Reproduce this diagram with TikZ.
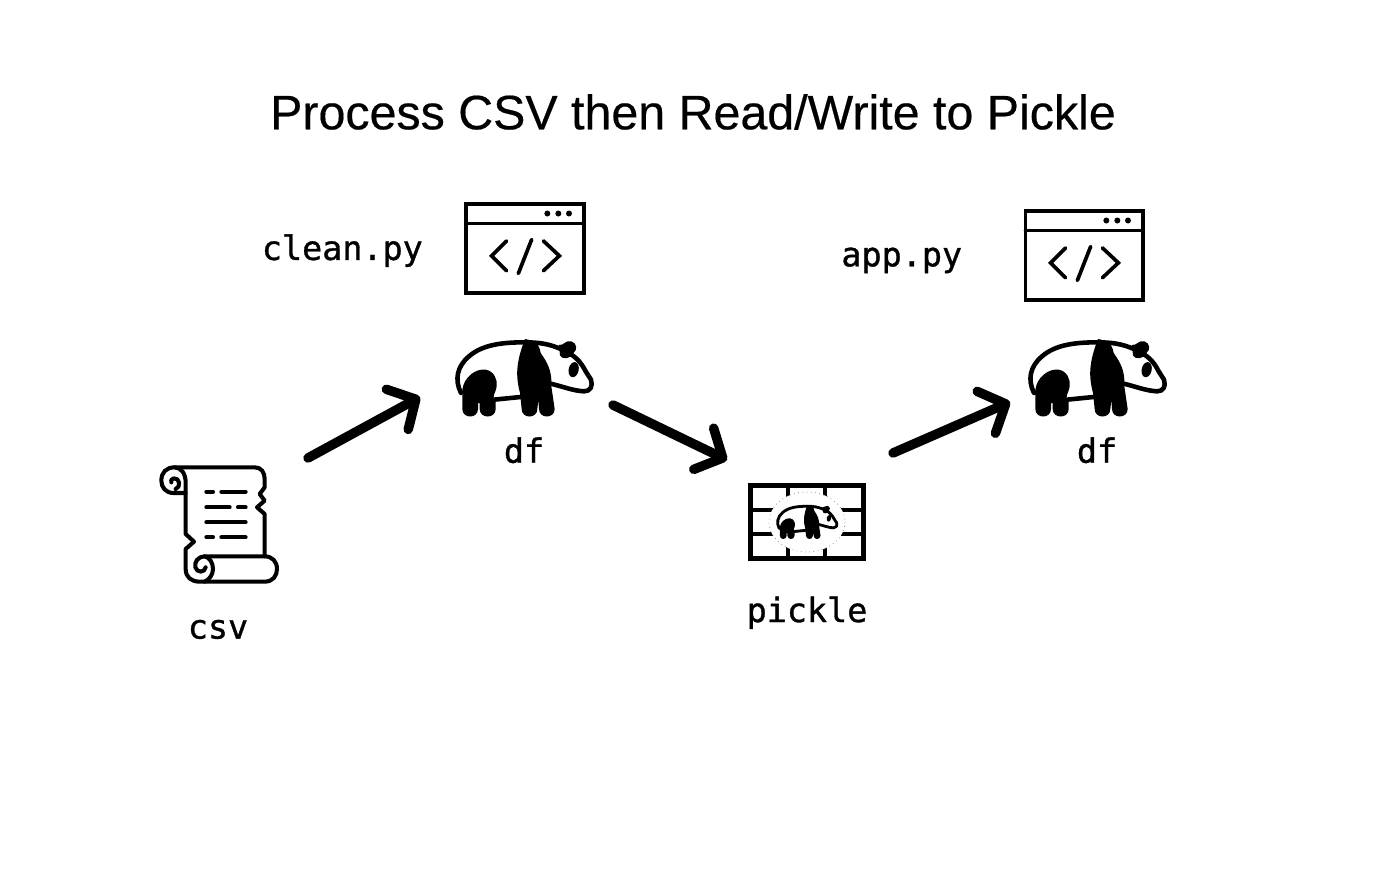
\documentclass[tikz,border=0pt]{standalone}
\usepackage{fontspec}
\setmainfont[FakeBold=0.4]{Liberation Sans}
\newfontfamily\labelfont[FakeBold=1]{DejaVu Sans Mono}
\usetikzlibrary{positioning, arrows.meta}
\tikzstyle{BigArrow} = [
line width=2.7pt,
line cap=round,
-{Straight Barb[length=6pt, width=13pt, round]}]
\tikzstyle{Label} = [inner sep=0pt, font=\labelfont\fontsize{9.5}{11}\selectfont]
\tikzstyle{Icon} = [inner sep=0pt, outer sep=0pt]
\tikzset{
pics/Panda/.style={code={
    \begin{scope}[shift={(-255,-565)}, line width=#1pt, line join=round, line cap=round]
    \draw (66,610) .. controls (46,570) and (54,530) .. (90,500)
        .. controls (130,465) and (190,458) .. (255,458)
        .. controls (300,458) and (330,462) .. (370,480)
        .. controls (405,495) and (425,515) .. (440,545)
        -- (456,570) .. controls (462,590) and (455,605) .. (435,605)
        .. controls (400,603) and (370,590) .. (335,582);
    \draw (165,630) -- (245,622);
    \fill (70,600) .. controls (75,562) and (110,536) .. (140,540)
        .. controls (165,544) and (176,570) .. (173,590)
        .. controls (170,612) and (155,622) .. (170,635)
        -- (170,658) .. controls (170,688) and (122,688) .. (122,658)
        -- (122,640) -- (117,640) -- (117,658)
        .. controls (117,688) and (70,688) .. (70,658) -- cycle;
    \fill (258,448) .. controls (285,453) and (300,460) .. (305,490)
        .. controls (322,515) and (340,540) .. (337,590)
        -- (347,658) .. controls (347,688) and (300,688) .. (300,658)
        -- (298,630) -- (295,658) .. controls (295,688) and (248,688) .. (248,658)
        -- (243,610) .. controls (230,560) and (230,520) .. (258,448) -- cycle;
    \fill (360,466) .. controls (375,468) and (380,450) .. (397,455)
        .. controls (415,460) and (415,482) .. (404,489)
        .. controls (395,510) and (368,510) .. (363,497) -- cycle;
    \fill [rotate around={-12:(404,540)}] (404,540) ellipse [x radius=15, y radius=23];
    \end{scope}
}},
pics/CodeWindow/.style={code={
    \begin{scope}[shift={(-255,-175)}, line width=1.05pt, line cap=round]
    \draw (79,42) rectangle (431,308);
    \draw (79,100) -- (431,100);
    \foreach \dotx in {322,355,387} {
        \fill (\dotx,70) circle (9);
    }
    \draw (200,152) -- (155,197) -- (200,242);
    \draw (310,152) -- (358,197) -- (310,242);
    \draw (275,148) -- (235,250);
    \end{scope}
}},
pics/Scroll/.style={code={
    \begin{scope}[shift={(-205,-205)}, line width=1.15pt, line join=round, line cap=round]
    \draw (108,112) -- (72,112) .. controls (48,112) and (35,95) .. (35,75)
        .. controls (35,50) and (50,35) .. (75,35) -- (315,35)
        .. controls (335,35) and (345,50) .. (345,70) -- (345,95)
        -- (330,115) -- (345,135) -- (322,155) -- (345,175) -- (345,302);
    \draw (75,35) .. controls (95,35) and (108,55) .. (108,80) -- (108,235)
        -- (133,258) -- (108,280) -- (108,340)
        .. controls (108,365) and (125,378) .. (150,378) -- (345,378)
        .. controls (370,378) and (382,360) .. (382,340)
        .. controls (382,318) and (368,302) .. (345,302) -- (165,302)
        .. controls (145,302) and (133,320) .. (137,335)
        .. controls (142,352) and (165,352) .. (168,335);
    \draw (165,302) .. controls (180,305) and (190,322) .. (190,340)
        .. controls (190,358) and (178,372) .. (165,378);
    \draw (78,100) .. controls (95,95) and (90,65) .. (72,68)
        .. controls (65,70) and (62,75) .. (65,80);
    \foreach \liney/\lineA/\lineB/\lineC/\lineD in {108/170/190/215/288, 155/170/240/265/288, 245/170/190/215/288} {
        \draw (\lineA,\liney) -- (\lineB,\liney);
        \draw (\lineC,\liney) -- (\lineD,\liney);
    }
    \draw (170,200) -- (288,200);
    \end{scope}
}},
}

\begin{document}
\begin{tikzpicture}[x=0.01cm, y=-0.01cm]
    \useasboundingbox (0,0) rectangle (1400,879);

    \node [font=\fontsize{13.75}{17}\selectfont] (title) at (693,112) {Process CSV then Read/Write to Pickle};

    \node [Icon, minimum width=120*0.01cm, minimum height=91*0.01cm] (code1) at (525,248.5) {};
    \node [Icon, minimum width=120*0.01cm, minimum height=91*0.01cm] (code2) at (1084,255.5) {};
    \node [Icon, minimum width=140*0.01cm, minimum height=80*0.01cm] (panda1) at (524,378) {};
    \node [Icon, minimum width=140*0.01cm, minimum height=80*0.01cm] (panda2) at (1097,378) {};
    \node [Icon, minimum width=120*0.01cm, minimum height=120*0.01cm] (scroll) at (218,524) {};
    \node [Icon, minimum width=113*0.01cm, minimum height=73*0.01cm] (store) at (807,522) {};

    \node [Label, left =11.8pt of code1, yshift=-0.6pt] (clean) {clean.py};
    \node [Label, left =17.4pt of code2, yshift=-1.4pt] (app) {app.py};
    \node [Label, below =5.3pt of panda1] (df1) {df};
    \node [Label, below =5.3pt of panda2] (df2) {df};
    \node [Label, below =10pt of scroll] (csv) {csv};
    \node [Label, below =10.6pt of store] (pickle) {pickle};

    \pic [scale=1/3] at (code1) {CodeWindow};
    \pic [scale=1/3] at (code2) {CodeWindow};
    \pic [scale=1/3] at (panda1) {Panda=1.3};
    \pic [scale=1/3] at (panda2) {Panda=1.3};
    \pic [scale=1/3] at (scroll) {Scroll};

    % pickle jar: brick wall behind a small panda
    \draw [line width=1.2pt] (store.north west) rectangle (store.south east);
    \foreach \rowy in {-12,12} {
        \draw [line width=1.2pt] (store.west |- 0,522+\rowy) -- (store.east |- 0,522+\rowy);
    }
    \foreach \colx in {-19,18} {
        \draw [line width=1.2pt] (807+\colx,487) -- (807+\colx,557);
    }
    \fill [white] (store) ellipse [x radius=38, y radius=30];
    \draw [densely dotted, line width=0.2pt, gray] (store) ellipse [x radius=38, y radius=30];
    \pic [scale=0.147] at (store) {Panda=0.8};

    \coordinate (a1) at (308,458);
    \coordinate (a2) at (420,397);
    \coordinate (b1) at (613,405);
    \coordinate (b2) at (727,460);
    \coordinate (c1) at (893,453);
    \coordinate (c2) at (1010,402);

    \draw [BigArrow] (a1) -- (a2);
    \draw [BigArrow] (b1) -- (b2);
    \draw [BigArrow] (c1) -- (c2);
\end{tikzpicture}
\end{document}
